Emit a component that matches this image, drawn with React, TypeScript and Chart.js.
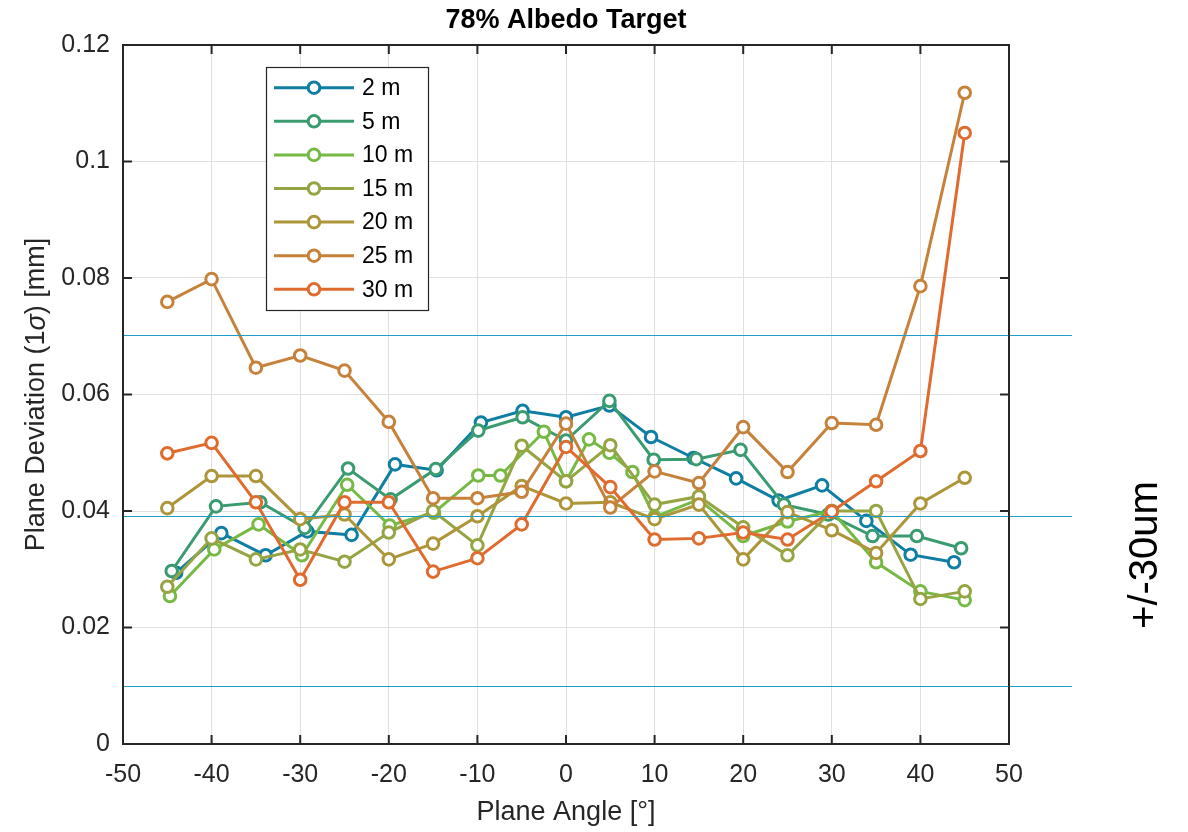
import React, { useEffect, useRef } from "react";
import { Chart, registerables } from "chart.js";

Chart.register(...registerables);

// ---------- data ----------
const titleText = "78% Albedo Target";
const xLabelText = "Plane Angle [°]";
const yLabelParts = ["Plane Deviation (1", "σ", ") [mm]"];
const sideNote = "+/-30um";

const seriesLabels = ["2 m", "5 m", "10 m", "15 m", "20 m", "25 m", "30 m"];
const seriesColors = ["#0f7ea2", "#3a9b70", "#76b944", "#97a444", "#ad963a", "#c6823a", "#e06b2e"];

const anglesStd = [-45, -40, -35, -30, -25, -20, -15, -10, -5, 0, 5, 10, 15, 20, 25, 30, 35, 40, 45];
const angles2m = [-44, -38.9, -33.9, -29.2, -24.2, -19.3, -14.6, -9.6, -4.9, 0, 4.9, 9.6, 14.4, 19.2, 24.0, 28.9, 33.9, 38.9, 43.8];
const angles5m = [-44.5, -39.5, -34.5, -29.5, -24.6, -19.8, -14.7, -9.9, -4.9, 0, 4.9, 9.9, 14.7, 19.7, 24.6, 29.6, 34.6, 39.6, 44.6];
const angles10m = [-44.7, -39.7, -34.7, -29.8, -24.7, -19.9, -14.9, -9.9, -7.4, -2.5, 0, 2.6, 4.9, 7.5, 10, 15, 20, 25, 30, 35, 40, 45];

const dev2m = [0.0294, 0.0362, 0.0324, 0.0365, 0.0359, 0.0480, 0.0470, 0.0552, 0.0572, 0.0561, 0.0581, 0.0527, 0.0491, 0.0456, 0.0418, 0.0444, 0.0383, 0.0325, 0.0312];
const dev5m = [0.0297, 0.0408, 0.0415, 0.0371, 0.0473, 0.0420, 0.0472, 0.0538, 0.0561, 0.0521, 0.0589, 0.0488, 0.0489, 0.0505, 0.0411, 0.0394, 0.0357, 0.0357, 0.0336];
const dev10m = [0.0254, 0.0334, 0.0377, 0.0324, 0.0445, 0.0375, 0.0397, 0.0461, 0.0461, 0.0536, 0.0451, 0.0523, 0.0500, 0.0467, 0.0390, 0.0420, 0.0357, 0.0382, 0.0400, 0.0312, 0.0262, 0.0247];
const dev15m = [0.0270, 0.0353, 0.0317, 0.0334, 0.0313, 0.0363, 0.0400, 0.0341, 0.0512, 0.0451, 0.0513, 0.0411, 0.0425, 0.0372, 0.0324, 0.0400, 0.0400, 0.0249, 0.0262];
const dev20m = [0.0405, 0.0460, 0.0460, 0.0386, 0.0394, 0.0317, 0.0344, 0.0391, 0.0443, 0.0413, 0.0415, 0.0386, 0.0411, 0.0317, 0.0398, 0.0367, 0.0328, 0.0413, 0.0457];
const dev25m = [0.0759, 0.0798, 0.0646, 0.0667, 0.0641, 0.0553, 0.0422, 0.0422, 0.0433, 0.0550, 0.0406, 0.0468, 0.0448, 0.0544, 0.0467, 0.0551, 0.0548, 0.0786, 0.1118];
const dev30m = [0.0499, 0.0517, 0.0415, 0.0282, 0.0415, 0.0415, 0.0296, 0.0319, 0.0377, 0.0510, 0.0441, 0.0351, 0.0353, 0.0363, 0.0351, 0.0399, 0.0451, 0.0503, 0.1049];

const seriesAngles = [angles2m, angles5m, angles10m, anglesStd, anglesStd, anglesStd, anglesStd];
const seriesValues = [dev2m, dev5m, dev10m, dev15m, dev20m, dev25m, dev30m];

const xRange = [-50, 50];
const xStep = 10;
const yRange = [0, 0.12];
const yStep = 0.02;

const refLineValues = [0.0702, 0.0391, 0.0100];
const refLineSpan = [-50, 57.1];

// ---------- styling ----------
const FONT = "'Liberation Sans', Arial, Helvetica, sans-serif";
const AXIS_COLOR = "#262626";
const GRID_COLOR = "#e0e0e0";
const REF_COLOR = "#1f9dc9";

const decorPlugin = {
  id: "decor",
  afterDatasetsDraw(chart: any) {
    const { ctx, chartArea: a, scales } = chart;
    const xs = scales.x;
    const ys = scales.y;
    ctx.save();

    // reference lines
    ctx.strokeStyle = REF_COLOR;
    ctx.lineWidth = 1.2;
    refLineValues.forEach((v) => {
      const py = Math.round(ys.getPixelForValue(v)) + 0.5;
      ctx.beginPath();
      ctx.moveTo(xs.getPixelForValue(refLineSpan[0]), py);
      ctx.lineTo(xs.getPixelForValue(refLineSpan[1]), py);
      ctx.stroke();
    });

    // axes box
    ctx.strokeStyle = AXIS_COLOR;
    ctx.lineWidth = 2;
    ctx.strokeRect(a.left, a.top, a.right - a.left, a.bottom - a.top);

    // inward ticks
    const tl = 9;
    ctx.beginPath();
    xs.ticks.forEach((t: any) => {
      const px = xs.getPixelForValue(t.value);
      ctx.moveTo(px, a.bottom);
      ctx.lineTo(px, a.bottom - tl);
      ctx.moveTo(px, a.top);
      ctx.lineTo(px, a.top + tl);
    });
    ys.ticks.forEach((t: any) => {
      const py = ys.getPixelForValue(t.value);
      ctx.moveTo(a.left, py);
      ctx.lineTo(a.left + tl, py);
      ctx.moveTo(a.right, py);
      ctx.lineTo(a.right - tl, py);
    });
    ctx.stroke();

    // legend
    const lx = a.left + 143;
    const ly = a.top + 22;
    const lw = 162;
    const lh = 243;
    ctx.fillStyle = "#ffffff";
    ctx.fillRect(lx, ly, lw, lh);
    ctx.strokeStyle = AXIS_COLOR;
    ctx.lineWidth = 1.2;
    ctx.strokeRect(lx + 0.5, ly + 0.5, lw, lh);
    ctx.font = `23px ${FONT}`;
    ctx.textBaseline = "middle";
    ctx.textAlign = "left";
    chart.data.datasets.forEach((ds: any, i: number) => {
      const ry = ly + 20.7 + i * 33.6;
      ctx.strokeStyle = ds.borderColor;
      ctx.lineWidth = 3;
      ctx.beginPath();
      ctx.moveTo(lx + 8, ry);
      ctx.lineTo(lx + 88, ry);
      ctx.stroke();
      ctx.beginPath();
      ctx.arc(lx + 48, ry, 5.8, 0, Math.PI * 2);
      ctx.fillStyle = "#ffffff";
      ctx.fill();
      ctx.stroke();
      ctx.fillStyle = "#000000";
      ctx.fillText(ds.label, lx + 96, ry + 1);
    });

    // title
    const cx = (a.left + a.right) / 2;
    ctx.fillStyle = "#000000";
    ctx.textAlign = "center";
    ctx.textBaseline = "middle";
    ctx.font = `bold 27px ${FONT}`;
    ctx.fillText(titleText, cx, 21);

    // x label
    ctx.fillStyle = AXIS_COLOR;
    ctx.font = `27px ${FONT}`;
    ctx.fillText(xLabelText, cx, 813);

    // y label (with italic sigma)
    const cy = (a.top + a.bottom) / 2;
    ctx.save();
    ctx.translate(37, cy);
    ctx.rotate(-Math.PI / 2);
    const fonts = [`27px ${FONT}`, `italic 27px ${FONT}`, `27px ${FONT}`];
    let total = 0;
    const widths = yLabelParts.map((p, i) => {
      ctx.font = fonts[i];
      const w = ctx.measureText(p).width;
      total += w;
      return w;
    });
    let pos = -total / 2;
    ctx.textAlign = "left";
    yLabelParts.forEach((p, i) => {
      ctx.font = fonts[i];
      ctx.fillText(p, pos, 0);
      pos += widths[i];
    });
    ctx.restore();

    // side note
    ctx.save();
    ctx.translate(1157, 555);
    ctx.rotate(-Math.PI / 2);
    ctx.fillStyle = "#000000";
    ctx.font = `40px ${FONT}`;
    ctx.textAlign = "center";
    ctx.textBaseline = "alphabetic";
    ctx.fillText(sideNote, 0, 0);
    ctx.restore();

    ctx.restore();
  },
};

export default function App() {
  const canvasRef = useRef<HTMLCanvasElement | null>(null);

  useEffect(() => {
    const canvas = canvasRef.current;
    if (!canvas) return;
    const n = seriesLabels.length;
    const datasets = seriesLabels.map((label, i) => ({
      label,
      data: seriesAngles[i].map((x, j) => ({ x, y: seriesValues[i][j] })),
      borderColor: seriesColors[i],
      backgroundColor: seriesColors[i],
      pointBackgroundColor: "#ffffff",
      pointBorderColor: seriesColors[i],
      pointBorderWidth: 3,
      pointRadius: 5.8,
      borderWidth: 3,
      showLine: true,
      tension: 0,
      order: n - 1 - i,
    }));

    const chart = new Chart(canvas, {
      type: "scatter",
      data: { datasets },
      plugins: [decorPlugin],
      options: {
        animation: false,
        responsive: false,
        devicePixelRatio: 1,
        layout: { padding: { left: 0, top: 45, right: 179, bottom: 0 } },
        plugins: {
          legend: { display: false },
          title: { display: false },
          tooltip: { enabled: false },
        },
        scales: {
          x: {
            type: "linear",
            min: xRange[0],
            max: xRange[1],
            afterFit: (s: any) => {
              s.height = 88;
            },
            ticks: {
              stepSize: xStep,
              color: AXIS_COLOR,
              font: { family: FONT, size: 25 },
              padding: 16,
              maxRotation: 0,
            },
            grid: { color: GRID_COLOR, lineWidth: 1, drawTicks: false },
            border: { display: false },
          },
          y: {
            type: "linear",
            min: yRange[0],
            max: yRange[1],
            afterFit: (s: any) => {
              s.width = 123;
            },
            ticks: {
              stepSize: yStep,
              color: AXIS_COLOR,
              font: { family: FONT, size: 25 },
              padding: 13,
              callback: (v: any) => parseFloat(Number(v).toFixed(2)).toString(),
            },
            grid: { color: GRID_COLOR, lineWidth: 1, drawTicks: false },
            border: { display: false },
          },
        },
      },
    });
    return () => chart.destroy();
  }, []);

  return (
    <div style={{ position: "absolute", left: 0, top: 0, width: 1188, height: 832, background: "#ffffff" }}>
      <canvas ref={canvasRef} width={1188} height={832} style={{ display: "block", width: 1188, height: 832 }} />
    </div>
  );
}
